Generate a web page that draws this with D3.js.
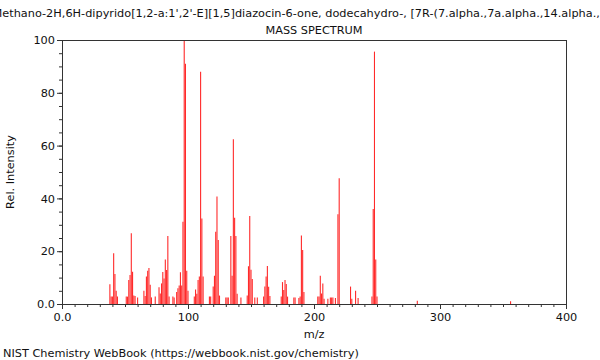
<!DOCTYPE html>
<html><head><meta charset="utf-8">
<script src="https://cdn.jsdelivr.net/npm/d3@7"></script>
<style>body{margin:0;background:#fff}svg text{font-family:"DejaVu Sans",sans-serif;}</style>
</head><body>
<svg id="c" width="600" height="360"></svg>
<script>
const compoundName = "7,14-Methano-2H,6H-dipyrido[1,2-a:1',2'-E][1,5]diazocin-6-one, dodecahydro-, [7R-(7.alpha.,7a.alpha.,14.alpha.,14a.beta.)]-";
const chartTitle = "MASS SPECTRUM";
const xLabel = "m/z";
const yLabel = "Rel. Intensity";
const footer = "NIST Chemistry WebBook (https://webbook.nist.gov/chemistry)";
const xTicks = [0, 100, 200, 300, 400];
const xTickLabels = ["0.0", "100", "200", "300", "400"];
const yTicks = [0, 20, 40, 60, 80, 100];
const yTickLabels = ["0.0", "20", "40", "60", "80", "100"];
const mz = [38,39,40,41,42,43,44,51,52,53,54,55,56,57,58,60,65,66,67,68,69,70,71,74,77,78,79,80,81,82,83,84,85,88,89,91,92,93,94,95,96,97,98,99,100,105,106,107,108,109,110,111,112,117,118,120,121,122,123,124,125,130,131,132,134,135,136,137,138,139,142,147,148,149,150,151,153,155,160,161,162,163,164,165,174,175,176,177,178,179,184,185,188,189,190,191,192,203,204,205,206,207,208,211,213,214,215,217,219,220,229,230,233,235,246,247,248,249,250,282,356];
const intensity = [7.5,2.8,2.8,19.2,11.4,5.0,2.8,2.8,2.8,9.1,11,26.8,12.2,3.2,3,2.5,5,3,10.4,12.6,13.6,7.3,2.5,2.8,6.3,4,7.8,12.1,9.7,16.9,12.9,25.8,2.8,2.8,2.5,4.5,6,7,12,7,31.2,100,91,12.6,5,2.8,5.5,3.9,9.1,10.4,88,32.4,10.4,2.8,2.8,6.6,10.7,27.4,40.7,24.2,3.2,2.5,2.5,2.5,25.8,10.7,62.4,32.7,25.8,3.9,2.5,3.2,14.3,33.3,13,9.5,2.5,2.5,2.8,6.6,10.4,14.4,6.5,3,2.8,8.3,5.3,9.1,7.6,2.8,2.5,2.5,2.3,2.8,25.9,20.5,4.5,2.8,2.8,10.7,4,7.8,2,2,2.5,2.5,2.5,2.3,34,47.6,6.6,2,5,2.3,2.8,36,95.6,16.9,2.8,1.2,1];

const svg = d3.select("#c");
const L = 62, R = 566, T = 40, B = 304;
const FS = 11.3;
const x = d3.scaleLinear().domain([0, 400]).range([L, R]);
const y = d3.scaleLinear().domain([0, 100]).range([B, T]);
const axisColor = "#333";

// peaks
svg.append("g").selectAll("line").data(mz).join("line")
  .attr("x1", d => x(d)).attr("x2", d => x(d))
  .attr("y1", y(0)).attr("y2", (d, i) => y(intensity[i]))
  .attr("stroke", "#ff2a2a").attr("stroke-width", 1.1);

// axes
const xAxis = d3.axisBottom(x).tickValues(xTicks).tickFormat((d, i) => xTickLabels[i]).tickSize(5).tickPadding(4);
svg.append("g").attr("transform", `translate(0,${B})`).call(xAxis);
const xMinor = d3.axisBottom(x).tickValues(d3.range(0, 401, 10)).tickFormat("").tickSize(3);
svg.append("g").attr("transform", `translate(0,${B})`).call(xMinor).select(".domain").remove();
const yAxis = d3.axisLeft(y).tickValues(yTicks).tickFormat((d, i) => yTickLabels[i]).tickSize(5).tickPadding(2);
svg.append("g").attr("transform", `translate(${L},0)`).call(yAxis);
const yMinor = d3.axisLeft(y).tickValues(d3.range(0, 101, 5)).tickFormat("").tickSize(3);
svg.append("g").attr("transform", `translate(${L},0)`).call(yMinor).select(".domain").remove();
svg.selectAll(".domain").attr("stroke", axisColor);
svg.selectAll(".tick line").attr("stroke", axisColor);
svg.selectAll(".tick text").attr("font-size", FS).attr("fill", "#111").attr("font-family", "DejaVu Sans");

// frame top & right
svg.append("line").attr("x1", L).attr("x2", R).attr("y1", T + 0.5).attr("y2", T + 0.5).attr("stroke", axisColor);
svg.append("line").attr("x1", R + 0.5).attr("x2", R + 0.5).attr("y1", T).attr("y2", B).attr("stroke", axisColor);

// titles (compound name is wider than the window and clipped on both sides, as in the reference)
svg.append("text").attr("x", (L + R) / 2 + 1).attr("y", 17).attr("text-anchor", "middle").attr("font-size", FS).attr("fill", "#111").text(compoundName);
svg.append("text").attr("x", (L + R) / 2).attr("y", 34).attr("text-anchor", "middle").attr("font-size", FS).attr("fill", "#111").text(chartTitle);
svg.append("text").attr("x", (L + R) / 2).attr("y", 338).attr("text-anchor", "middle").attr("font-size", FS).attr("fill", "#111").text(xLabel);
svg.append("text").attr("transform", `translate(14,${(T + B) / 2}) rotate(-90)`).attr("text-anchor", "middle").attr("font-size", FS).attr("fill", "#111").text(yLabel);
svg.append("text").attr("x", 3).attr("y", 357).attr("font-size", FS).attr("fill", "#111").text(footer);
</script>
</body></html>
